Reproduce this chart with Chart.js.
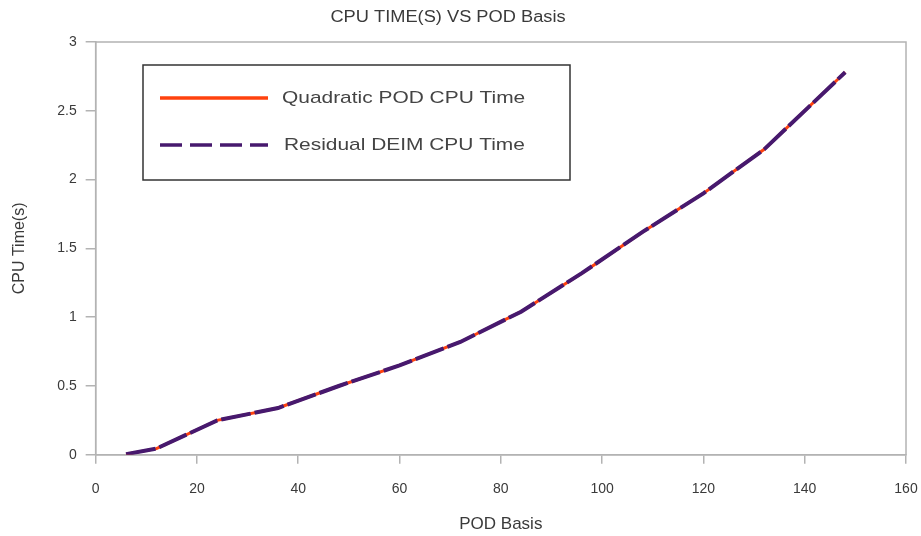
<!DOCTYPE html>
<html>
<head>
<meta charset="utf-8">
<script src="https://cdn.jsdelivr.net/npm/chart.js@4/dist/chart.umd.min.js"></script>
<style>
  html, body { margin: 0; padding: 0; background: #fff; }
  #wrap { width: 921px; height: 536px; }
</style>
</head>
<body>
<div id="wrap"><canvas id="cpuChart"></canvas></div>
<script>
// POD basis size (x) and CPU time in seconds (y)
var podBasis = [6, 12, 24, 36, 48, 60, 72, 84, 96, 108, 120, 132, 148];
var quadraticPodTime = [0.005, 0.045, 0.25, 0.34, 0.5, 0.65, 0.82, 1.04, 1.32, 1.62, 1.9, 2.22, 2.78];
var residualDeimTime = [0.005, 0.045, 0.25, 0.34, 0.5, 0.65, 0.82, 1.04, 1.32, 1.62, 1.9, 2.22, 2.78];
var seriesNames = ["Quadratic POD CPU Time", "Residual DEIM CPU Time"];
var chartTitle = "CPU TIME(S) VS POD Basis";

var textColor = "#3a3a3a";
var axisColor = "#b3b3b3";
var fontFamily = "'Liberation Sans', Arial, sans-serif";

function toPoints(xs, ys) {
	return xs.map(function(x, i) { return { x: x, y: ys[i] }; });
}

// title is a bit left of centre in the original, so draw it by hand
var offsetTitle = {
	id: "offsetTitle",
	afterDraw: function(chart, args, opts) {
		var ctx = chart.ctx;
		ctx.save();
		ctx.translate(opts.x, opts.y);
		ctx.scale(1.14, 1);
		ctx.font = "16px " + fontFamily;
		ctx.fillStyle = textColor;
		ctx.textAlign = "center";
		ctx.textBaseline = "middle";
		ctx.fillText(opts.text, 0, 0);
		ctx.restore();
	}
};

// gray frame around the plot area
var frameBox = {
	id: "frameBox",
	beforeDatasetsDraw: function(chart) {
		var a = chart.chartArea, ctx = chart.ctx;
		ctx.save();
		ctx.strokeStyle = axisColor;
		ctx.lineWidth = 1.5;
		ctx.strokeRect(a.left, a.top, a.right - a.left, a.bottom - a.top);
		ctx.restore();
	}
};

// boxed legend sitting inside the plot, like the original
var boxLegend = {
	id: "boxLegend",
	afterDraw: function(chart, args, opts) {
		var ctx = chart.ctx;
		ctx.save();
		ctx.fillStyle = "#fff";
		ctx.fillRect(opts.x, opts.y, opts.w, opts.h);
		ctx.strokeStyle = "#333";
		ctx.lineWidth = 1.5;
		ctx.strokeRect(opts.x, opts.y, opts.w, opts.h);
		ctx.textBaseline = "middle";
		chart.data.datasets.forEach(function(ds, i) {
			var y = opts.y + 33 + i * 47;
			ctx.strokeStyle = ds.borderColor;
			ctx.lineWidth = 3.5;
			ctx.setLineDash(i === 1 ? [22, 8] : []);
			ctx.beginPath();
			ctx.moveTo(opts.x + 17, y);
			ctx.lineTo(opts.x + 125, y);
			ctx.stroke();
			ctx.setLineDash([]);
			// the source text is a little wide, stretch it sideways
			ctx.save();
			ctx.translate(opts.x + 139 + i * 2, y);
			ctx.scale(1.23, 1);
			ctx.font = "17px " + fontFamily;
			ctx.fillStyle = "#444";
			ctx.fillText(ds.label, 0, 0);
			ctx.restore();
		});
		ctx.restore();
	}
};

new Chart(document.getElementById("cpuChart").getContext("2d"), {
	type: "line",
	data: {
		datasets: [{
			label: seriesNames[0],
			data: toPoints(podBasis, quadraticPodTime),
			borderColor: "#ff420e",
			borderWidth: 3,
			pointRadius: 0,
			tension: 0,
			order: 1
		}, {
			label: seriesNames[1],
			data: toPoints(podBasis, residualDeimTime),
			borderColor: "#47196e",
			borderWidth: 4,
			borderDash: [30, 4],
			pointRadius: 0,
			tension: 0,
			order: 0
		}]
	},
	plugins: [offsetTitle, frameBox, boxLegend],
	options: {
		responsive: true,
		maintainAspectRatio: false,
		animation: false,
		layout: { padding: { left: 10, right: 4, top: 42, bottom: 1 } },
		plugins: {
			legend: { display: false },
			tooltip: { enabled: false },
			title: { display: false },
			offsetTitle: { text: chartTitle, x: 448, y: 18 },
			boxLegend: { x: 143, y: 65, w: 427, h: 115 }
		},
		scales: {
			x: {
				type: "linear",
				min: 0,
				max: 160,
				afterFit: function(scale) { scale.paddingRight = 15; },
				grid: { drawOnChartArea: false, drawTicks: true, tickLength: 9, color: axisColor, lineWidth: 1.5 },
				border: { color: axisColor, width: 1.5 },
				ticks: {
					stepSize: 20,
					padding: 17,
					color: textColor,
					font: { family: fontFamily, size: 14 }
				},
				title: {
					display: true,
					text: "POD Basis",
					color: textColor,
					font: { family: fontFamily, size: 17 },
					padding: { top: 0, bottom: 0 }
				}
			},
			y: {
				min: 0,
				max: 3,
				afterFit: function(scale) { scale.paddingTop = 0; },
				grid: { drawOnChartArea: false, drawTicks: true, tickLength: 10, color: axisColor, lineWidth: 1.5 },
				border: { color: axisColor, width: 1.5 },
				ticks: {
					stepSize: 0.5,
					padding: 9,
					color: textColor,
					font: { family: fontFamily, size: 14 },
					callback: function(v) { return String(Number(v)); }
				},
				title: {
					display: true,
					text: "CPU Time(s)",
					color: textColor,
					font: { family: fontFamily, size: 16 },
					padding: { top: 0, bottom: 19 }
				}
			}
		}
	}
});
</script>
</body>
</html>
